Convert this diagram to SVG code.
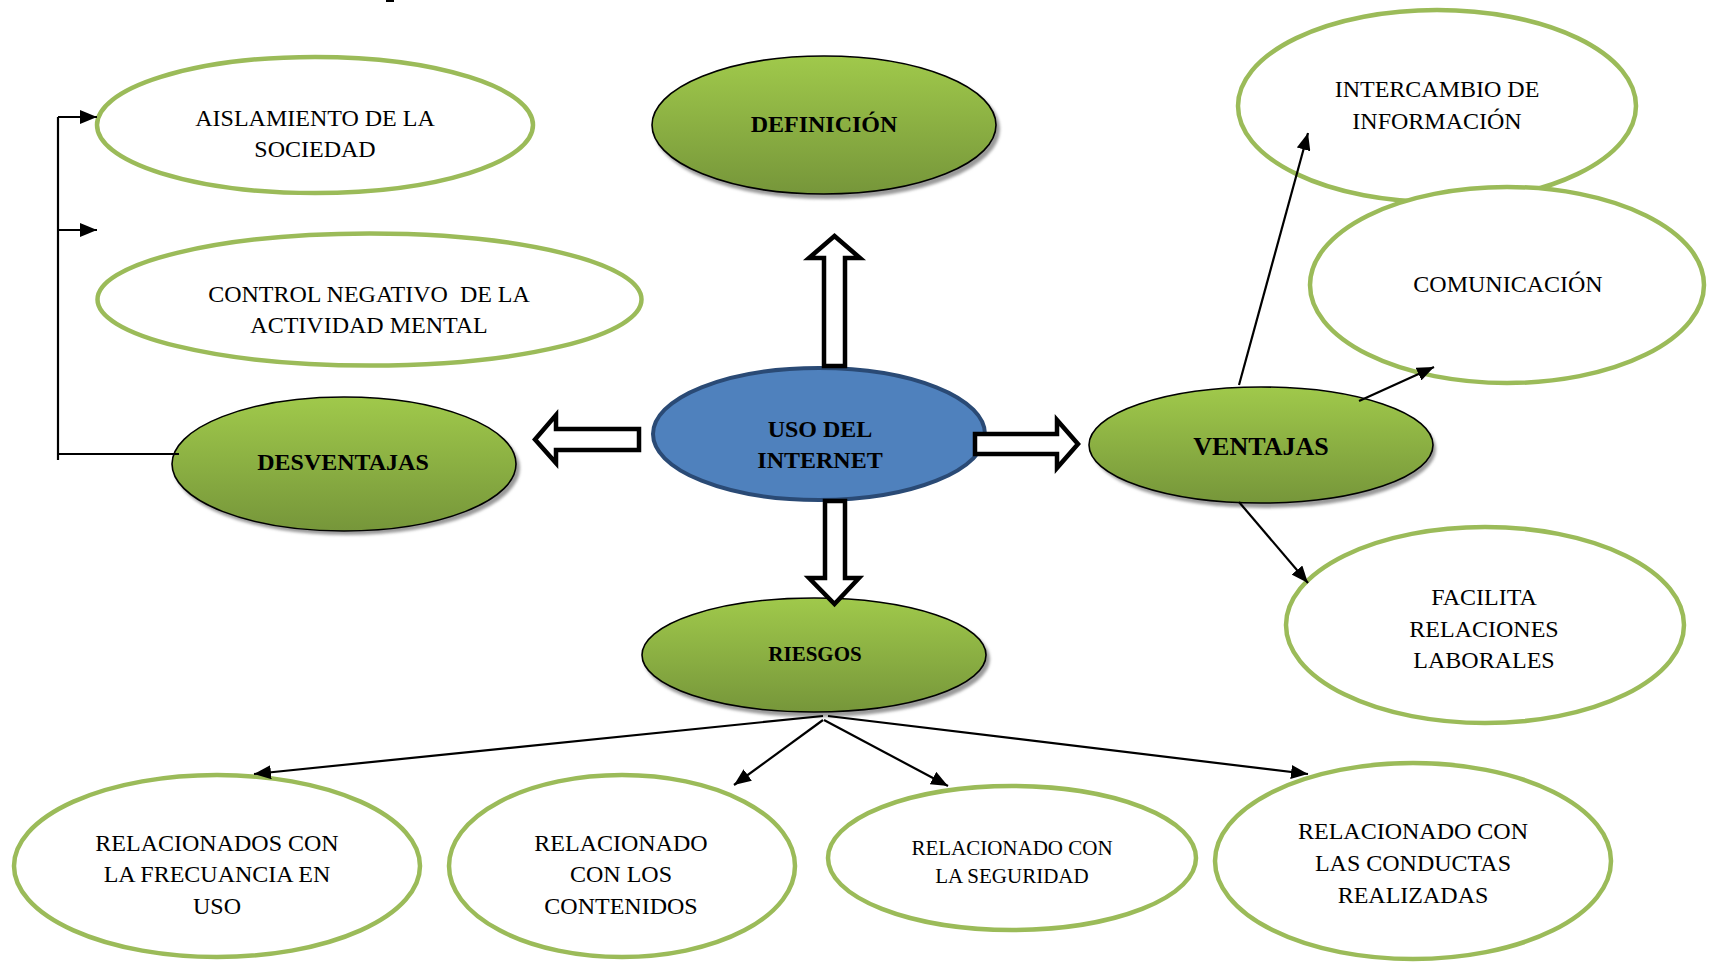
<svg xmlns="http://www.w3.org/2000/svg" width="1709" height="962" viewBox="0 0 1709 962">
<defs>
<linearGradient id="g" x1="0" y1="0" x2="0" y2="1">
<stop offset="0" stop-color="#a0c94b"/>
<stop offset="1" stop-color="#76963a"/>
</linearGradient>
<filter id="blur" x="-10%" y="-10%" width="120%" height="130%"><feGaussianBlur stdDeviation="1.5"/></filter>
<marker id="ah" markerUnits="userSpaceOnUse" markerWidth="18" markerHeight="14" refX="17" refY="7" orient="auto">
<path d="M0,0 L17,7 L0,14 z" fill="#000"/>
</marker>
<style>
.out{fill:#fff;stroke:#9bbb59;stroke-width:4.5}
.grn{fill:url(#g);stroke:#000;stroke-width:1.6}
.shd{fill:#9a9a9a;filter:url(#blur)}
.t{font-family:"Liberation Serif","Times New Roman",serif;font-size:24px;fill:#000;text-anchor:middle}
.b{font-weight:bold}
.con{fill:none;stroke:#000;stroke-width:2.2}
.blk{fill:#fff;stroke:#000;stroke-width:4.5;stroke-linejoin:miter}
</style>
</defs>
<rect width="1709" height="962" fill="#fff"/>
<rect x="386" y="0" width="8" height="2" fill="#000"/>

<g id="aislamiento">
<ellipse class="out" cx="315" cy="125" rx="218" ry="68"/>
<text class="t" x="315" y="126">AISLAMIENTO DE LA</text>
<text class="t" x="315" y="157">SOCIEDAD</text>
</g>
<g id="control">
<ellipse class="out" cx="369.5" cy="299.5" rx="272" ry="66"/>
<text class="t" x="369" y="302" xml:space="preserve">CONTROL NEGATIVO  DE LA</text>
<text class="t" x="369" y="333">ACTIVIDAD MENTAL</text>
</g>
<g id="desventajas">
<ellipse class="shd" cx="347" cy="468" rx="173" ry="67"/>
<ellipse class="grn" cx="344" cy="464" rx="172" ry="67"/>
<text class="t b" x="343" y="470">DESVENTAJAS</text>
</g>
<g id="definicion">
<ellipse class="shd" cx="827" cy="129" rx="173" ry="70"/>
<ellipse class="grn" cx="824" cy="125" rx="172" ry="69"/>
<text class="t b" x="824" y="132">DEFINICIÓN</text>
</g>
<g id="uso">
<ellipse cx="819" cy="434" rx="166" ry="66" fill="#4f81bd" stroke="#2a4a75" stroke-width="4"/>
<text class="t b" x="820" y="437">USO DEL</text>
<text class="t b" x="820" y="468">INTERNET</text>
</g>
<g id="ventajas">
<ellipse class="shd" cx="1264" cy="449" rx="172" ry="59"/>
<ellipse class="grn" cx="1261" cy="445" rx="172" ry="58"/>
<text class="t b" x="1261" y="455" style="font-size:26px">VENTAJAS</text>
</g>
<g id="intercambio">
<ellipse class="out" cx="1437" cy="106" rx="199" ry="96"/>
<text class="t" x="1437" y="97">INTERCAMBIO DE</text>
<text class="t" x="1437" y="129">INFORMACIÓN</text>
</g>
<g id="comunicacion">
<ellipse class="out" cx="1507" cy="285" rx="197" ry="98"/>
<text class="t" x="1508" y="292">COMUNICACIÓN</text>
</g>
<g id="facilita">
<ellipse class="out" cx="1485" cy="625" rx="199" ry="98"/>
<text class="t" x="1484" y="605">FACILITA</text>
<text class="t" x="1484" y="637">RELACIONES</text>
<text class="t" x="1484" y="668">LABORALES</text>
</g>
<g id="riesgos">
<ellipse class="shd" cx="817" cy="659" rx="173" ry="58"/>
<ellipse class="grn" cx="814" cy="655" rx="172" ry="57"/>
<text class="t b" x="815" y="661" style="font-size:21px">RIESGOS</text>
</g>
<g id="frecuencia">
<ellipse class="out" cx="217" cy="866" rx="203" ry="91"/>
<text class="t" x="217" y="851">RELACIONADOS CON</text>
<text class="t" x="217" y="882">LA FRECUANCIA EN</text>
<text class="t" x="217" y="914">USO</text>
</g>
<g id="contenidos">
<ellipse class="out" cx="622" cy="866" rx="173" ry="91"/>
<text class="t" x="621" y="851">RELACIONADO</text>
<text class="t" x="621" y="882">CON LOS</text>
<text class="t" x="621" y="914">CONTENIDOS</text>
</g>
<g id="seguridad">
<ellipse class="out" cx="1012" cy="858" rx="184" ry="72"/>
<text class="t" x="1012" y="855" style="font-size:21px">RELACIONADO CON</text>
<text class="t" x="1012" y="883" style="font-size:21px">LA SEGURIDAD</text>
</g>
<g id="conductas">
<ellipse class="out" cx="1413" cy="861" rx="198" ry="98"/>
<text class="t" x="1413" y="839">RELACIONADO CON</text>
<text class="t" x="1413" y="871">LAS CONDUCTAS</text>
<text class="t" x="1413" y="903">REALIZADAS</text>
</g>

<g id="connectors">
<polygon class="blk" points="824,366 824,258 809,258 834.5,236 860,258 845,258 845,366"/>
<polygon class="blk" points="639,429 556,429 556,415 535,439.5 556,463 556,450 639,450"/>
<polygon class="blk" points="975,434 1057,434 1057,420 1078,444 1057,468 1057,454 975,454"/>
<polygon class="blk" points="825,501 845,501 845,578 859,578 834.5,604 809,578 825,578"/>
<path class="con" d="M179,454 H58"/>
<path class="con" d="M58,460 V117"/>
<path class="con" d="M58,117 H97" marker-end="url(#ah)"/>
<path class="con" d="M58,230 H97" marker-end="url(#ah)"/>
<path class="con" d="M1239,385 L1308,133" marker-end="url(#ah)"/>
<path class="con" d="M1359,401 L1434,367" marker-end="url(#ah)"/>
<path class="con" d="M1239,502 L1308,583" marker-end="url(#ah)"/>
<path class="con" d="M823,716 L254,774" marker-end="url(#ah)"/>
<path class="con" d="M823,720 L734,785" marker-end="url(#ah)"/>
<path class="con" d="M824,720 L948,786" marker-end="url(#ah)"/>
<path class="con" d="M828,716 L1308,774" marker-end="url(#ah)"/>
</g>
</svg>
